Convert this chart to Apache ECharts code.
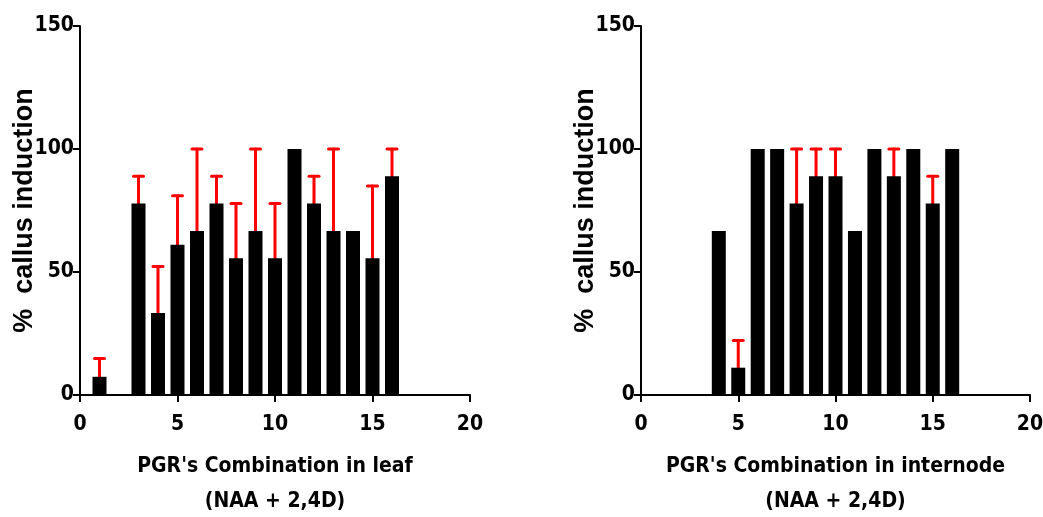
<!DOCTYPE html>
<html>
<head>
<meta charset="utf-8">
<script src="https://cdn.jsdelivr.net/npm/echarts@6/dist/echarts.min.js"></script>
<style>
html,body{margin:0;padding:0;background:#fff;}
#main{width:1043px;height:517px;}
</style>
</head>
<body>
<div id="main"></div>
<script>
// PGR combination number 1..16
var combos=[1,2,3,4,5,6,7,8,9,10,11,12,13,14,15,16];
// % callus induction, leaf (null = no bar)
var leafMean=[7.4,null,77.8,33.3,61.1,66.7,77.8,55.6,66.7,55.6,100,77.8,66.7,66.7,55.6,88.9];
var leafErr=[7.4,null,11.1,18.9,19.9,33.3,11.1,22.2,33.3,22.2,0,11.1,33.3,0,29.4,11.1];
// % callus induction, internode
var nodeMean=[null,null,null,66.7,11.1,100,100,77.8,88.9,88.9,66.7,100,88.9,100,77.8,100];
var nodeErr=[null,null,null,0,11.1,0,0,22.2,11.1,11.1,0,0,11.1,0,11.1,0];
var xTicks=[0,5,10,15,20];
var yTicks=[0,50,100,150];

var FONT_NARROW='"Liberation Sans Narrow","DejaVu Sans Condensed",sans-serif';
var FONT='"Liberation Sans",Arial,sans-serif';

function toPairs(xs,ys){
	var out=[];
	for(var i=0;i<xs.length;i++){
		if(ys[i]!=null){
			out.push([xs[i],ys[i]]);
		}
	}
	return out;
}
function toErr(xs,ys,es){
	var out=[];
	for(var i=0;i<xs.length;i++){
		if(ys[i]!=null&&es[i]>0){
			out.push([xs[i],ys[i],ys[i]+es[i]]);
		}
	}
	return out;
}
/**
 * 误差线：从柱顶画到 mean+sd，顶部加横线
 */
function renderErr(params,api){
	var p0=api.coord([api.value(0),api.value(1)]);
	var p1=api.coord([api.value(0),api.value(2)]);
	var st={stroke:'#ff0000',lineWidth:3,lineCap:'round'};
	return {
		type:'group',
		children:[
			{type:'line',shape:{x1:p0[0],y1:p0[1],x2:p1[0],y2:p1[1]},style:st},
			{type:'line',shape:{x1:p1[0]-5,y1:p1[1],x2:p1[0]+5,y2:p1[1]},style:st}
		]
	};
}
function xAxisOf(idx,name){
	return {
		gridIndex:idx,type:'value',min:xTicks[0],max:xTicks[xTicks.length-1],interval:5,
		axisLine:{onZero:false,lineStyle:{color:'#000',width:2}},
		axisTick:{show:true,length:7,lineStyle:{color:'#000',width:2}},
		axisLabel:{color:'#000',fontFamily:FONT_NARROW,fontWeight:'bold',fontSize:21,margin:19},
		splitLine:{show:false},
		name:name,nameLocation:'middle',nameGap:54,nameMoveOverlap:false,
		nameTextStyle:{color:'#000',fontFamily:FONT_NARROW,fontWeight:'bold',fontSize:21,lineHeight:35}
	};
}
function yAxisOf(idx){
	return {
		gridIndex:idx,type:'value',min:yTicks[0],max:yTicks[yTicks.length-1],interval:50,
		axisLine:{show:true,lineStyle:{color:'#000',width:2}},
		axisTick:{show:true,length:7,lineStyle:{color:'#000',width:2}},
		axisLabel:{color:'#000',fontFamily:FONT_NARROW,fontWeight:'bold',fontSize:21,margin:6},
		splitLine:{show:false},
		name:'%  callus induction',nameLocation:'middle',nameGap:42,nameMoveOverlap:false,
		nameTextStyle:{color:'#000',fontFamily:FONT,fontWeight:'bold',fontSize:27}
	};
}

var myChart=echarts.init(document.getElementById('main'));
var option={
	backgroundColor:'#fff',
	animation:false,
	grid:[
		{left:80,top:26,right:573,bottom:122,outerBoundsMode:'none'},
		{left:641,top:26,right:13,bottom:122,outerBoundsMode:'none'}
	],
	xAxis:[
		xAxisOf(0,"PGR's Combination in leaf\n(NAA + 2,4D)"),
		xAxisOf(1,"PGR's Combination in internode\n(NAA + 2,4D)")
	],
	yAxis:[yAxisOf(0),yAxisOf(1)],
	series:[
		{type:'custom',xAxisIndex:0,yAxisIndex:0,renderItem:renderErr,data:toErr(combos,leafMean,leafErr),z:1},
		{type:'bar',xAxisIndex:0,yAxisIndex:0,barWidth:14,itemStyle:{color:'#000'},data:toPairs(combos,leafMean),z:2},
		{type:'custom',xAxisIndex:1,yAxisIndex:1,renderItem:renderErr,data:toErr(combos,nodeMean,nodeErr),z:1},
		{type:'bar',xAxisIndex:1,yAxisIndex:1,barWidth:14,itemStyle:{color:'#000'},data:toPairs(combos,nodeMean),z:2}
	]
};
myChart.setOption(option);
</script>
</body>
</html>
